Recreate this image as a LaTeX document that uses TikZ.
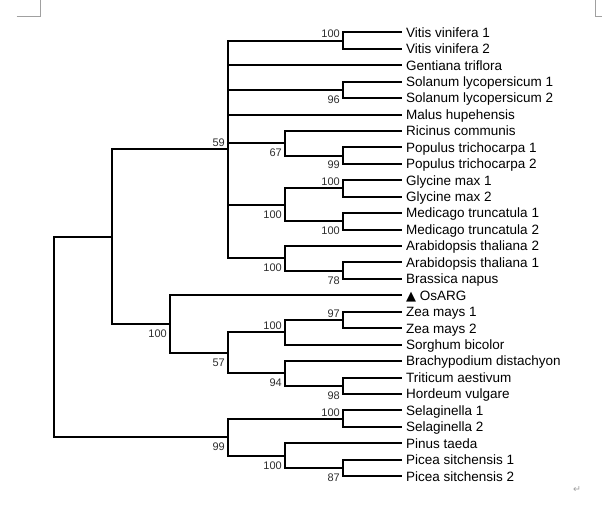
\documentclass[tikz,border=0pt]{standalone}
\usepackage{fontspec}
\setmainfont{Liberation Sans}
\newfontfamily\symfont{DejaVu Sans}
\usetikzlibrary{positioning}
\usepackage{xcolor}
\definecolor{bsgray}{RGB}{45,45,45}
\definecolor{markgray}{RGB}{160,160,160}
\tikzset{
  BR/.style={line width=2pt,black},
  LF/.style={anchor=west,inner xsep=4pt,inner ysep=0pt,text height=9.7pt,text depth=0pt,font=\fontsize{13.5}{15}\selectfont},
  BA/.style={anchor=south east,inner sep=0pt,xshift=-3pt,yshift=2.3pt,font=\fontsize{11}{12}\selectfont,text=bsgray},
  BB/.style={anchor=north east,inner sep=0pt,xshift=-3pt,yshift=-5.5pt,font=\fontsize{11}{12}\selectfont,text=bsgray},
  MK/.style={line width=0.8pt,markgray},
}

\begin{document}
\begin{tikzpicture}[x=1pt,y=-1pt]
\useasboundingbox (0,0) rectangle (602,511);

% page marks
\draw[MK] (16.7,16)--(40.7,16)--(40.7,0);
\draw[MK] (595.7,0)--(595.7,16)--(602,16);
\node[inner sep=0pt,text=markgray,font=\symfont\fontsize{9.5}{10}\selectfont] (pmark) at (577,490) {↵};

\begin{scope}[yshift=-32.3pt,y=-16.44pt]

% Leaves (one row each)
\node[LF](vv1)   at (402, 0){Vitis vinifera 1};
\node[LF](vv2)   at (402, 1){Vitis vinifera 2};
\node[LF](gtr)   at (402, 2){Gentiana triflora};
\node[LF](sl1)   at (402, 3){Solanum lycopersicum 1};
\node[LF](sl2)   at (402, 4){Solanum lycopersicum 2};
\node[LF](mhu)   at (402, 5){Malus hupehensis};
\node[LF](rco)   at (402, 6){Ricinus communis};
\node[LF](pt1)   at (402, 7){Populus trichocarpa 1};
\node[LF](pt2)   at (402, 8){Populus trichocarpa 2};
\node[LF](gm1)   at (402, 9){Glycine max 1};
\node[LF](gm2)   at (402,10){Glycine max 2};
\node[LF](mt1)   at (402,11){Medicago truncatula 1};
\node[LF](mt2)   at (402,12){Medicago truncatula 2};
\node[LF](at2)   at (402,13){Arabidopsis thaliana 2};
\node[LF](at1)   at (402,14){Arabidopsis thaliana 1};
\node[LF](bna)   at (402,15){Brassica napus};
\node[LF](osarg) at (402,16){{\symfont\fontsize{13}{13}\selectfont ▲}\ OsARG};
\node[LF](zm1)   at (402,17){Zea mays 1};
\node[LF](zm2)   at (402,18){Zea mays 2};
\node[LF](sbi)   at (402,19){Sorghum bicolor};
\node[LF](bdi)   at (402,20){Brachypodium distachyon};
\node[LF](tae)   at (402,21){Triticum aestivum};
\node[LF](hvu)   at (402,22){Hordeum vulgare};
\node[LF](sel1)  at (402,23){Selaginella 1};
\node[LF](sel2)  at (402,24){Selaginella 2};
\node[LF](pta)   at (402,25){Pinus taeda};
\node[LF](ps1)   at (402,26){Picea sitchensis 1};
\node[LF](ps2)   at (402,27){Picea sitchensis 2};

% Internal nodes
\coordinate (vit)  at (343, 0.5);
\coordinate (sol)  at (343, 3.5);
\coordinate (pop)  at (343, 7.5);
\coordinate (ric)  at (285, 6.75);
\coordinate (gly)  at (343, 9.5);
\coordinate (med)  at (343,11.5);
\coordinate (leg)  at (285,10.5);
\coordinate (ara1) at (343,14.5);
\coordinate (ara)  at (285,13.75);
\coordinate (dic)  at (228, 7.125);
\coordinate (zea)  at (343,17.5);
\coordinate (zsb)  at (285,18.25);
\coordinate (trh)  at (343,21.5);
\coordinate (brt)  at (285,20.75);
\coordinate (grs)  at (228,19.5);
\coordinate (mon)  at (170,17.75);
\coordinate (ang)  at (112,12.4375);
\coordinate (sel)  at (343,23.5);
\coordinate (pic)  at (343,26.5);
\coordinate (pin)  at (285,25.75);
\coordinate (gym)  at (228,24.625);
\coordinate (root) at ( 54,18.53125);

% Eudicots
\draw[BR](dic) |- (vit);
\draw[BR](vit) |- (vv1.west);
\draw[BR](vit) |- (vv2.west);
\draw[BR](dic) |- (gtr.west);
\draw[BR](dic) |- (sol);
\draw[BR](sol) |- (sl1.west);
\draw[BR](sol) |- (sl2.west);
\draw[BR](dic) |- (mhu.west);
\draw[BR](dic) |- (ric);
\draw[BR](ric) |- (rco.west);
\draw[BR](ric) |- (pop);
\draw[BR](pop) |- (pt1.west);
\draw[BR](pop) |- (pt2.west);
\draw[BR](dic) |- (leg);
\draw[BR](leg) |- (gly);
\draw[BR](gly) |- (gm1.west);
\draw[BR](gly) |- (gm2.west);
\draw[BR](leg) |- (med);
\draw[BR](med) |- (mt1.west);
\draw[BR](med) |- (mt2.west);
\draw[BR](dic) |- (ara);
\draw[BR](ara) |- (at2.west);
\draw[BR](ara) |- (ara1);
\draw[BR](ara1) |- (at1.west);
\draw[BR](ara1) |- (bna.west);

% Monocots
\draw[BR](mon) |- (osarg.west);
\draw[BR](mon) |- (grs);
\draw[BR](grs) |- (zsb);
\draw[BR](zsb) |- (zea);
\draw[BR](zea) |- (zm1.west);
\draw[BR](zea) |- (zm2.west);
\draw[BR](zsb) |- (sbi.west);
\draw[BR](grs) |- (brt);
\draw[BR](brt) |- (bdi.west);
\draw[BR](brt) |- (trh);
\draw[BR](trh) |- (tae.west);
\draw[BR](trh) |- (hvu.west);

% Angiosperms / gymnosperms + lycophytes
\draw[BR](ang) |- (dic);
\draw[BR](ang) |- (mon);
\draw[BR](root) |- (ang);
\draw[BR](root) |- (gym);
\draw[BR](gym) |- (sel);
\draw[BR](sel) |- (sel1.west);
\draw[BR](sel) |- (sel2.west);
\draw[BR](gym) |- (pin);
\draw[BR](pin) |- (pta.west);
\draw[BR](pin) |- (pic);
\draw[BR](pic) |- (ps1.west);
\draw[BR](pic) |- (ps2.west);

% Bootstrap values
\node[BA](bvit)  at (vit) {100};
\node[BB](bsol)  at (sol) {96};
\node[BA](bdic)  at (dic) {59};
\node[BB](bric)  at (ric) {67};
\node[BB](bpop)  at (pop) {99};
\node[BA](bgly)  at (gly) {100};
\node[BB](bleg)  at (leg) {100};
\node[BB](bmed)  at (med) {100};
\node[BB](bara)  at (ara) {100};
\node[BB](bara1) at (ara1){78};
\node[BA](bzea)  at (zea) {97};
\node[BA](bzsb)  at (zsb) {100};
\node[BB](bmon)  at (mon) {100};
\node[BB](bgrs)  at (grs) {57};
\node[BB](bbrt)  at (brt) {94};
\node[BB](btrh)  at (trh) {98};
\node[BA](bsel)  at (sel) {100};
\node[BB](bgym)  at (gym) {99};
\node[BB](bpin)  at (pin) {100};
\node[BB](bpic)  at (pic) {87};

\end{scope}
\end{tikzpicture}
\end{document}
